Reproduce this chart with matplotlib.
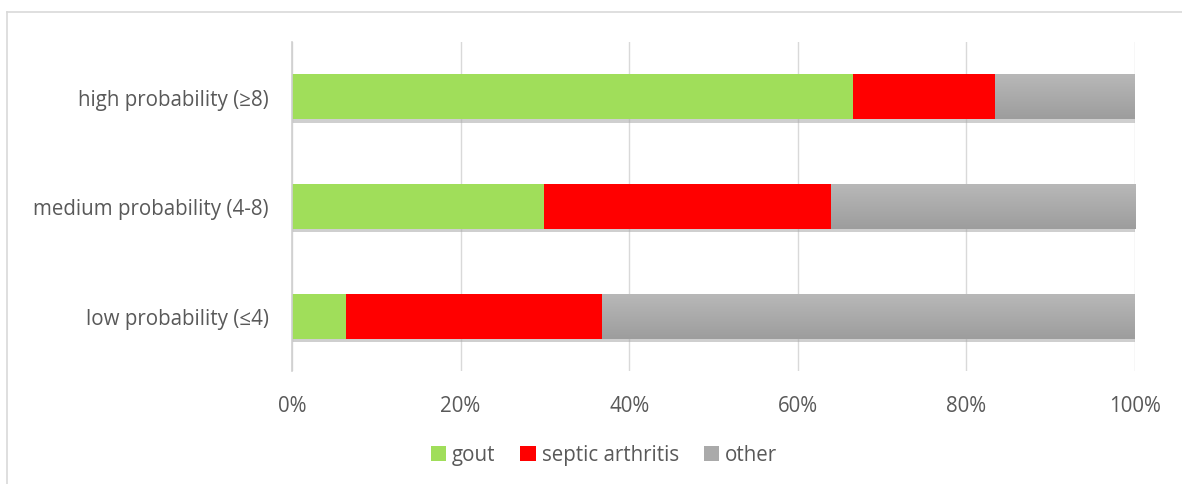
import matplotlib
matplotlib.use("Agg")

import matplotlib.pyplot as plt
import numpy as np
from matplotlib.lines import Line2D

# data (percent of cases per probability group)
categories = ["low probability (≤4)", "medium probability (4-8)", "high probability (≥8)"]
gout = [6.4, 29.9, 66.6]
septic = [30.4, 34.0, 16.8]
other = [63.2, 36.1, 16.6]

plt.rcParams["font.family"] = ["Open Sans", "DejaVu Sans"]
TXT = "#595959"
FS = 14.8

fig = plt.figure(figsize=(11.82, 4.85), dpi=100)
ax = fig.add_axes([292 / 1182, 1 - 372 / 485, (1135 - 292) / 1182, (372 - 43) / 485])

# chart border (top + left only visible in the crop)
top = 1 - 13 / 485
lft = 7 / 1182
fig.lines.append(Line2D([lft, 1.0], [top, top], transform=fig.transFigure,
                        color="#d9d9d9", linewidth=1.2))
fig.lines.append(Line2D([lft, lft], [0, top], transform=fig.transFigure,
                        color="#d9d9d9", linewidth=1.2))

y = np.arange(len(categories))
h = 0.41
left2 = np.array(gout) + np.array(septic)

# soft shadow under the bars
for yi, tot in zip(y, left2 + np.array(other)):
    ax.barh(yi - 0.03, tot, height=h, color="#a8a8a8", alpha=0.55, zorder=1.5)

b1 = ax.barh(y, gout, height=h, color="#a0de5a", zorder=2, label="gout")
b2 = ax.barh(y, septic, left=gout, height=h, color="#ff0000", zorder=2, label="septic arthritis")
b3 = ax.barh(y, other, left=left2, height=h, color="#aaaaaa", zorder=2, label="other")

# vertical gradient on the "other" bars
grad = np.linspace(0, 1, 64).reshape(-1, 1)
cmap = matplotlib.colors.LinearSegmentedColormap.from_list("g", ["#9d9d9d", "#b8b8b8"])
for p in b3.patches:
    x0, y0 = p.get_x(), p.get_y()
    im = ax.imshow(grad, extent=(x0, x0 + p.get_width(), y0, y0 + p.get_height()),
                   origin="lower", cmap=cmap, aspect="auto", zorder=2.1)
    im.set_clip_path(p)

ax.set_xlim(0, 100)
ax.set_ylim(-0.5, 2.5)
ax.set_xticks(np.arange(0, 101, 20))
ax.set_xticklabels([f"{v}%" for v in range(0, 101, 20)])
ax.set_yticks(y)
ax.set_yticklabels(categories)
ax.tick_params(axis="both", length=0, colors=TXT, labelsize=FS)
ax.tick_params(axis="x", pad=17)
ax.tick_params(axis="y", pad=17)
ax.grid(axis="x", color="#d9d9d9", linewidth=1, zorder=0)
ax.set_axisbelow(True)
for s in ["top", "right", "bottom"]:
    ax.spines[s].set_visible(False)
ax.spines["left"].set_color("#d0d0d0")
ax.spines["left"].set_linewidth(1.2)

fig.legend(handles=[b1, b2, b3], loc="center", bbox_to_anchor=(604 / 1182, 1 - 456 / 485),
           ncol=3, frameon=False, fontsize=FS, handlelength=0.75, handleheight=0.75,
           handletextpad=0.3, columnspacing=1.2, labelcolor=TXT)

fig.savefig("out.png", dpi=100, facecolor="white")
